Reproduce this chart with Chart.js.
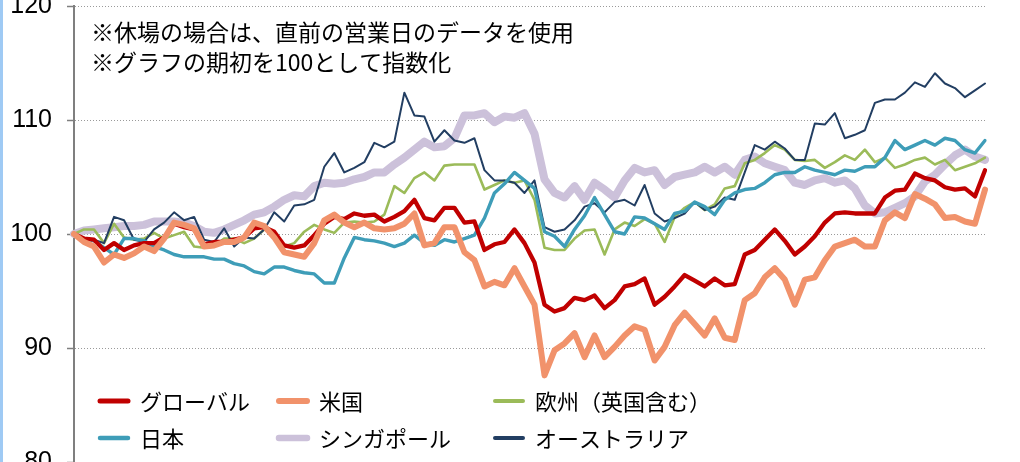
<!DOCTYPE html>
<html>
<head>
<meta charset="utf-8">
<script src="https://cdn.jsdelivr.net/npm/chart.js@4.4.1/dist/chart.umd.min.js"></script>
<style>
  html, body { margin: 0; padding: 0; background: #fff; width: 1020px; height: 462px; overflow: hidden; }
  #wrap { position: absolute; left: 0; top: 0; width: 1020px; height: 500px; }
  #edge { position: absolute; left: 0; top: 0; width: 3px; height: 462px; background: #9fcaf4; }
</style>
</head>
<body>
<div id="wrap"><canvas id="indexChart" width="1020" height="500"></canvas></div>
<div id="edge"></div>
<script>
// 期初=100 の指数（営業日ベース、横軸は非表示）
const globalVals = [
  100.0, 99.6, 99.5, 98.6, 99.2, 98.6, 99.0, 99.2, 99.2, 99.7,
  100.9, 100.6, 100.4, 99.1, 99.3, 99.3, 99.5, 99.7, 100.5, 100.6,
  100.2, 99.0, 98.8, 99.0, 99.9, 100.9, 101.5, 101.3, 101.8, 101.6,
  101.7, 101.1, 101.5, 102.0, 103.0, 101.4, 101.2, 102.3, 102.3, 101.0,
  101.1, 98.6, 99.1, 99.3, 100.4, 99.2, 97.5, 93.8, 93.2, 93.5,
  94.4, 94.2, 94.6, 93.5, 94.2, 95.4, 95.6, 96.1, 93.8, 94.5,
  95.4, 96.4, 95.9, 95.4, 96.1, 95.5, 95.6, 98.2, 98.6, 99.5,
  100.4, 99.4, 98.2, 98.9, 99.8, 101.0, 101.8, 101.9, 101.8, 101.8,
  101.8, 103.2, 103.8, 103.9, 105.3, 104.9, 104.7, 104.1, 103.9, 104.0,
  103.3, 105.6
];
const usVals = [
  100.0, 99.3, 98.9, 97.5, 98.2, 97.9, 98.3, 98.9, 98.5, 99.6,
  101.0, 100.8, 100.5, 98.9, 99.0, 99.3, 99.3, 99.7, 101.0, 100.7,
  99.7, 98.4, 98.2, 98.0, 99.2, 101.2, 101.7, 101.0, 100.6, 101.0,
  100.5, 100.4, 100.5, 100.9, 101.8, 99.0, 99.2, 100.6, 100.6, 98.4,
  97.7, 95.4, 95.8, 95.5, 97.0, 95.4, 93.8, 87.6, 89.8, 90.4,
  91.3, 89.2, 91.1, 89.2, 90.1, 91.1, 91.9, 91.6, 88.9, 90.1,
  92.0, 93.1, 92.1, 91.1, 92.6, 90.9, 90.7, 94.2, 94.8, 96.2,
  97.0, 96.0, 93.8, 96.0, 96.2, 97.7, 98.9, 99.2, 99.5, 98.9,
  98.9, 101.2, 101.9, 101.4, 103.5, 103.1, 102.6, 101.4, 101.5, 101.1,
  100.9, 103.9
];
const europeVals = [
  100.0, 100.4, 100.4, 99.2, 100.9, 99.7, 99.5, 99.6, 100.1, 99.6,
  99.9, 100.2, 98.9, 98.8, 98.9, 99.6, 99.6, 99.2, 99.6, 100.4,
  100.0, 98.9, 99.2, 100.2, 100.8, 100.4, 100.1, 101.0, 101.1, 101.0,
  101.1, 101.7, 104.2, 103.6, 104.9, 105.4, 104.7, 106.0, 106.1, 106.1,
  106.1, 103.9, 104.3, 104.7, 104.5, 104.7, 103.0, 98.8, 98.6, 98.6,
  99.6, 100.3, 100.4, 98.2, 100.4, 101.0, 100.7, 101.3, 100.9, 99.3,
  101.5, 102.3, 102.8, 102.1, 102.6, 104.0, 104.2, 106.2, 106.5, 107.1,
  107.8, 107.4, 106.5, 106.4, 106.5, 105.8, 106.3, 106.9, 106.5, 107.4,
  106.3, 106.7, 105.8, 106.1, 106.5, 106.7, 106.1, 106.5, 105.6, 105.9,
  106.2, 106.7
];
const japanVals = [
  100.0, 99.6, 99.4, 98.8, 98.2, 99.6, 99.6, 99.4, 98.9, 98.6,
  98.2, 98.0, 98.0, 98.0, 97.8, 97.8, 97.4, 97.2, 96.7, 96.5,
  97.1, 97.1, 96.8, 96.6, 96.5, 95.7, 95.7, 97.9, 99.7, 99.5,
  99.4, 99.2, 98.9, 99.2, 99.9, 99.2, 99.0, 99.5, 99.3, 99.6,
  99.9, 101.4, 103.6, 104.4, 105.4, 104.7, 104.0, 100.2, 99.8, 98.9,
  100.4, 101.6, 103.2, 101.7, 100.2, 100.0, 101.5, 101.4, 100.9, 100.4,
  101.8, 102.0, 102.8, 102.4, 101.7, 103.0, 103.6, 103.9, 104.0, 104.5,
  105.2, 105.4, 105.4, 105.9, 105.6, 105.4, 105.2, 105.6, 105.5, 105.9,
  105.9, 106.7, 108.2, 107.4, 107.8, 108.2, 107.8, 108.4, 108.2, 107.4,
  107.1, 108.2
];
const singaporeVals = [
  100.0, 100.3, 100.4, 100.5, 100.6, 100.7, 100.7, 100.8, 101.1, 101.1,
  101.1, 101.0, 100.7, 100.2, 100.1, 100.4, 100.8, 101.2, 101.7, 101.9,
  102.4, 103.0, 103.4, 103.3, 104.2, 104.5, 104.4, 104.5, 104.8, 105.0,
  105.4, 105.4, 106.1, 106.7, 107.4, 108.1, 107.6, 107.7, 108.4, 110.4,
  110.4, 110.6, 109.8, 110.3, 110.2, 110.6, 108.8, 104.8, 103.6, 103.2,
  104.2, 103.0, 104.5, 103.9, 103.2, 104.7, 105.8, 105.4, 105.6, 104.3,
  105.0, 105.2, 105.4, 105.9, 105.4, 105.9, 105.2, 106.5, 106.8, 106.2,
  105.9, 105.6, 104.5, 104.3, 104.7, 104.9, 104.5, 104.7, 104.0, 102.5,
  101.8, 101.9, 102.3, 102.7, 103.3, 104.6, 105.2, 106.1, 106.9, 107.4,
  106.8, 106.5
];
const australiaVals = [
  100.0, 99.5, 99.5, 99.2, 101.5, 101.2, 99.5, 99.3, 100.4, 101.0,
  101.9, 101.2, 101.5, 99.5, 99.3, 100.5, 98.9, 99.7, 99.6, 100.4,
  101.9, 101.1, 102.5, 102.6, 103.0, 105.9, 107.1, 105.4, 105.8, 106.3,
  108.0, 107.6, 108.1, 112.4, 110.4, 110.3, 108.1, 109.1, 108.2, 108.0,
  108.4, 105.6, 104.7, 104.7, 104.5, 103.6, 104.7, 100.6, 100.2, 100.4,
  101.2, 102.4, 102.7, 101.9, 102.8, 103.0, 102.5, 104.3, 101.8, 101.1,
  101.4, 101.8, 102.8, 102.1, 102.4, 103.2, 103.0, 105.4, 107.8, 107.4,
  108.1, 107.5, 106.5, 106.5, 109.7, 109.6, 110.6, 108.4, 108.7, 109.1,
  111.5, 111.8, 111.8, 112.4, 113.3, 112.9, 114.1, 113.2, 112.8, 112.0,
  112.6, 113.2
];

const seriesNames = ['グローバル', '米国', '欧州（英国含む）', '日本', 'シンガポール', 'オーストラリア'];
const notes = ['※休場の場合は、直前の営業日のデータを使用', '※グラフの期初を100として指数化'];
const yTicks = [80, 90, 100, 110, 120];

const days = globalVals.map((_, i) => i);
const jpFont = '"Noto Sans CJK JP", "Noto Sans", sans-serif';

function line(label, data, color, width, legendWidth, order) {
  return {
    label: label,
    data: data,
    borderColor: color,
    backgroundColor: color,
    borderWidth: width,
    legendWidth: legendWidth,
    order: order,
    pointRadius: 0,
    pointHoverRadius: 0,
    tension: 0,
    fill: false,
    borderJoinStyle: 'round',
    borderCapStyle: 'round'
  };
}

// 注記と凡例（3列×2行）をキャンバスに描く
const notesAndLegend = {
  id: 'notesAndLegend',
  afterDraw(chart) {
    const ctx = chart.ctx;
    ctx.save();
    ctx.fillStyle = '#000';
    ctx.textBaseline = 'middle';
    ctx.textAlign = 'left';
    ctx.font = '23px ' + jpFont;
    ctx.fillText(notes[0], 91, 32);
    ctx.fillText(notes[1], 91, 62);

    const cols = [98, 277, 493];
    const rows = [401, 438];
    ctx.font = '22px ' + jpFont;
    chart.data.datasets.forEach((ds, i) => {
      const x = cols[i % 3];
      const y = rows[Math.floor(i / 3)];
      ctx.strokeStyle = ds.borderColor;
      ctx.lineWidth = ds.legendWidth;
      ctx.lineCap = 'round';
      ctx.beginPath();
      ctx.moveTo(x + 2, y);
      ctx.lineTo(x + 30, y);
      ctx.stroke();
      ctx.fillStyle = '#000';
      ctx.fillText(ds.label, x + 42, y + 1);
    });
    ctx.restore();
  }
};

new Chart(document.getElementById('indexChart'), {
  type: 'line',
  data: {
    labels: days,
    datasets: [
      line(seriesNames[0], globalVals, '#C00000', 4.3, 5, 2),
      line(seriesNames[1], usVals, '#F1926B', 6, 6, 1),
      line(seriesNames[2], europeVals, '#9BBB59', 2.6, 4, 5),
      line(seriesNames[3], japanVals, '#3E9DB8', 3.4, 4.5, 3),
      line(seriesNames[4], singaporeVals, '#CCC1DA', 8, 6.5, 6),
      line(seriesNames[5], australiaVals, '#223E62', 2, 4, 4)
    ]
  },
  options: {
    responsive: false,
    animation: false,
    devicePixelRatio: 1,
    layout: { padding: { left: 0, right: 35, top: 6, bottom: 38 } },
    plugins: {
      legend: { display: false },
      tooltip: { enabled: false }
    },
    scales: {
      x: { display: false, offset: false },
      y: {
        min: 80,
        max: 120,
        afterBuildTicks: (scale) => {
          scale.ticks = yTicks.map(v => ({ value: v }));
        },
        afterFit: (scale) => {
          scale.width = 74;
          scale.paddingTop = 0;
          scale.paddingBottom = 0;
        },
        ticks: {
          color: '#000',
          padding: 15,
          font: { family: '"Liberation Sans", Arial, sans-serif', size: 25 }
        },
        grid: {
          color: '#9a9a9a',
          lineWidth: 1,
          tickLength: 7,
          tickColor: '#7f7f7f',
          tickWidth: 1.5
        },
        border: {
          color: '#7f7f7f',
          width: 2,
          dash: [1, 2]
        }
      }
    }
  },
  plugins: [notesAndLegend]
});
</script>
</body>
</html>
